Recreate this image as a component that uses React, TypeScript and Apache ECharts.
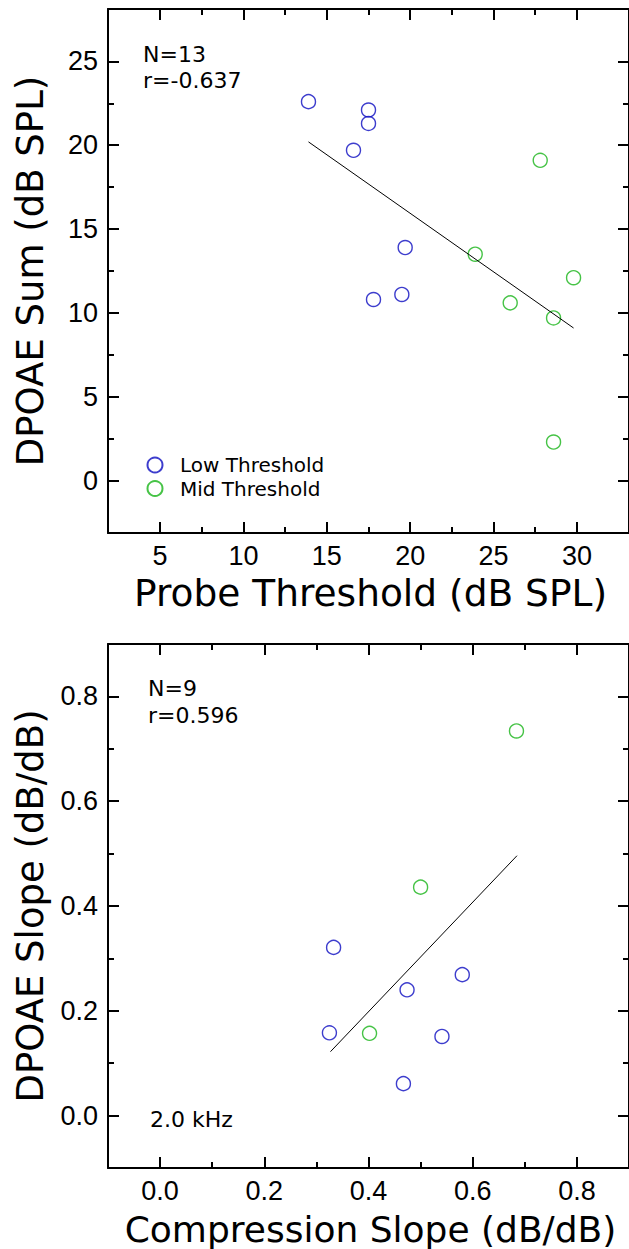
import React, { useEffect, useRef } from "react";
import * as echarts from "echarts";

// ---- data ----
const topLow: number[][] = [
  [13.9, 22.6], [17.5, 22.1], [17.5, 21.3], [16.6, 19.7],
  [19.7, 13.9], [19.5, 11.1], [17.8, 10.8],
];
const topMid: number[][] = [
  [27.8, 19.1], [23.9, 13.5], [29.8, 12.1], [26.0, 10.6],
  [28.6, 9.7], [28.6, 2.3],
];
const topFit: number[][] = [[13.9, 20.2], [29.8, 9.1]];

const botLow: number[][] = [
  [0.333, 0.321], [0.474, 0.24], [0.58, 0.269], [0.325, 0.158],
  [0.541, 0.151], [0.467, 0.061],
];
const botMid: number[][] = [[0.684, 0.734], [0.5, 0.436], [0.402, 0.157]];
const botFit: number[][] = [[0.327, 0.122], [0.685, 0.496]];

const topXMajor = [5, 10, 15, 20, 25, 30];
const topXMinor = [7.5, 12.5, 17.5, 22.5, 27.5];
const topYMajor = [0, 5, 10, 15, 20, 25];
const topYMinor = [2.5, 7.5, 12.5, 17.5, 22.5];
const botMajor = [0, 0.2, 0.4, 0.6, 0.8];
const botMinor = [0.1, 0.3, 0.5, 0.7];

const seriesNames = ["Low Threshold", "Mid Threshold"];
const BLUE = "#0c0cc0";
const GREEN = "#18b418";

function axis(
  dim: "x" | "y",
  gridIndex: number,
  position: string,
  min: number,
  max: number,
  ticks: number[],
  len: number,
  showLine: boolean,
  showLabel: boolean,
  fmt?: (v: number) => string
) {
  return {
    type: "value",
    gridIndex,
    position,
    min,
    max,
    splitLine: { show: false },
    axisLine: { show: showLine, onZero: false, lineStyle: { color: "#000", width: 2 } },
    axisTick: {
      show: true,
      inside: true,
      length: len,
      customValues: ticks,
      lineStyle: { color: "#000", width: 2 },
    },
    axisLabel: {
      show: showLabel,
      customValues: ticks,
      margin: dim === "x" ? 9 : 10,
      color: "#000",
      fontFamily: "Liberation Sans",
      fontSize: 27,
      formatter: fmt ? (v: number) => fmt(v) : (v: number) => String(v),
    },
  };
}

function axesFor(
  dim: "x" | "y",
  gridIndex: number,
  min: number,
  max: number,
  major: number[],
  minor: number[],
  fmt?: (v: number) => string
) {
  const p1 = dim === "x" ? "bottom" : "left";
  const p2 = dim === "x" ? "top" : "right";
  return [
    axis(dim, gridIndex, p1, min, max, major, 11, true, true, fmt),
    axis(dim, gridIndex, p1, min, max, minor, 6, false, false),
    axis(dim, gridIndex, p2, min, max, major, 11, true, false),
    axis(dim, gridIndex, p2, min, max, minor, 6, false, false),
  ];
}

function scatter(name: string, data: number[][], color: string, ai: number) {
  return {
    type: "scatter",
    name,
    data,
    xAxisIndex: ai,
    yAxisIndex: ai,
    symbol: "circle",
    symbolSize: 14,
    itemStyle: { color: "rgba(0,0,0,0)", borderColor: color, borderWidth: 1.4 },
  };
}

function fit(data: number[][], ai: number) {
  return {
    type: "line",
    data,
    xAxisIndex: ai,
    yAxisIndex: ai,
    symbol: "none",
    silent: true,
    lineStyle: { color: "#000", width: 1 },
  };
}

const titleFont = "DejaVu Sans";

function txt(text: string, x: number, y: number, size: number, align = "left", rotation = 0) {
  return {
    type: "text",
    x,
    y,
    rotation,
    style: {
      text,
      fill: "#000",
      font: `${size}px "${titleFont}"`,
      textAlign: align,
      textVerticalAlign: "middle",
    },
  };
}

export default function App() {
  const ref = useRef<HTMLDivElement>(null);
  useEffect(() => {
    document.body.style.margin = "0";
    if (!ref.current) return;
    const chart = echarts.init(ref.current, undefined, { renderer: "svg" });
    const f1 = (v: number) => v.toFixed(1);
    const option = {
      animation: false,
      backgroundColor: "#fff",
      grid: [
        { left: 108, top: 9, width: 525, height: 524 },
        { left: 108, top: 644, width: 525, height: 524 },
      ],
      xAxis: [
        ...axesFor("x", 0, 1.875, 33.125, topXMajor, topXMinor),
        ...axesFor("x", 1, -0.1, 0.9, botMajor, botMinor, f1),
      ],
      yAxis: [
        ...axesFor("y", 0, -3.125, 28.125, topYMajor, topYMinor),
        ...axesFor("y", 1, -0.1, 0.9, botMajor, botMinor, f1),
      ],
      legend: {
        data: seriesNames,
        orient: "vertical",
        left: 146.5,
        top: 453.5,
        itemWidth: 40,
        itemHeight: 15,
        itemGap: 0.5,
        padding: 0,
        selectedMode: false,
        textStyle: { color: "#000", fontFamily: titleFont, fontSize: 20, lineHeight: 23 },
      },
      series: [
        fit(topFit, 0),
        scatter(seriesNames[0], topLow, BLUE, 0),
        scatter(seriesNames[1], topMid, GREEN, 0),
        fit(botFit, 4),
        scatter(seriesNames[0], botLow, BLUE, 4),
        scatter(seriesNames[1], botMid, GREEN, 4),
      ],
      graphic: [
        txt("N=13", 143, 54.5, 22),
        txt("r=-0.637", 143, 80.5, 22),
        txt("N=9", 148, 688.5, 22),
        txt("r=0.596", 148, 715, 22),
        txt("2.0 kHz", 150, 1119.5, 22),
        txt("Probe Threshold (dB SPL)", 370.5, 592.5, 37.5, "center"),
        txt("Compression Slope (dB/dB)", 370.5, 1229, 36, "center"),
        txt("DPOAE Sum (dB SPL)", 30, 271, 37, "center", Math.PI / 2),
        txt("DPOAE Slope (dB/dB)", 30, 906, 37, "center", Math.PI / 2),
      ],
    };
    chart.setOption(option as any);
    return () => chart.dispose();
  }, []);
  return <div ref={ref} style={{ width: 629, height: 1249 }} />;
}
